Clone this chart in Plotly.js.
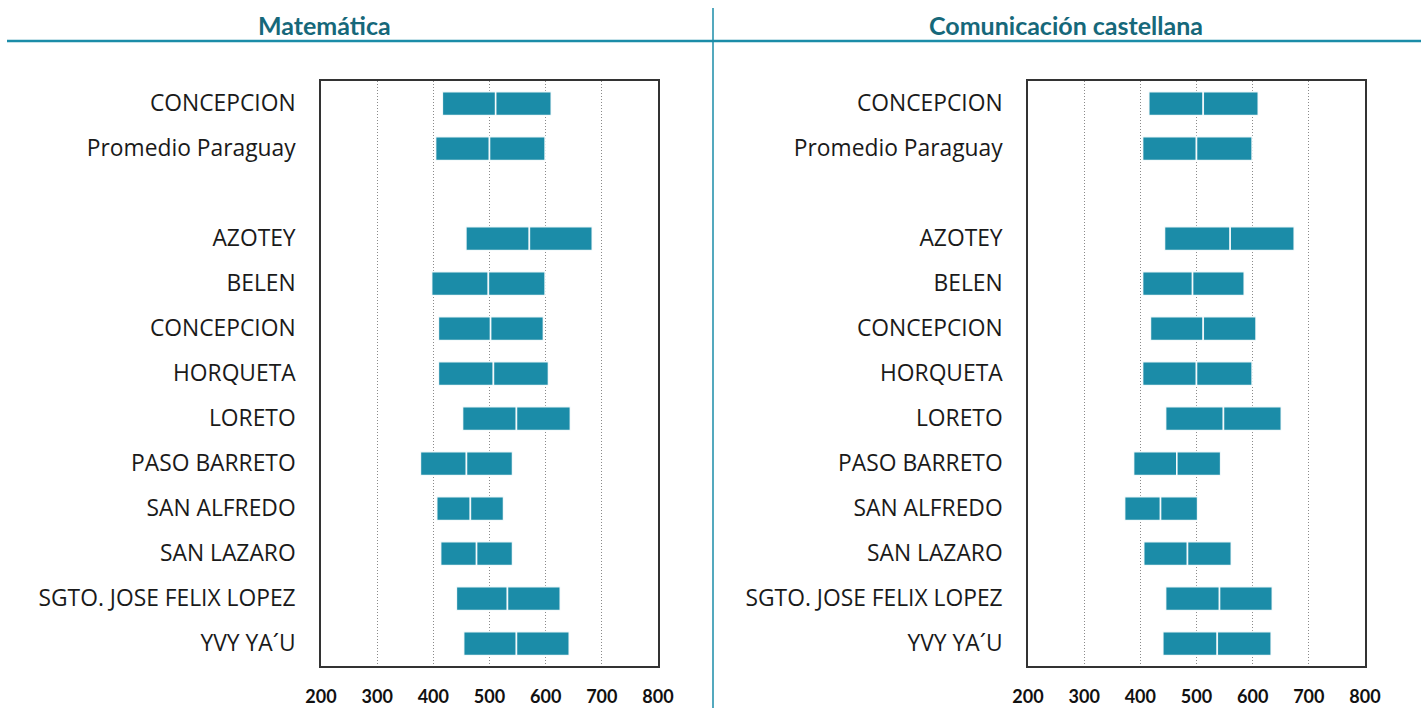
<!DOCTYPE html>
<html>
<head>
<meta charset="utf-8">
<script src="https://cdn.plot.ly/plotly-3.0.1.min.js"></script>
<style>html,body{margin:0;padding:0;background:#fff;}#chart{width:1428px;height:708px;}</style>
</head>
<body>
<div id="chart"></div>
<script>
const rows = ["CONCEPCION","Promedio Paraguay","","AZOTEY","BELEN","CONCEPCION","HORQUETA","LORETO","PASO BARRETO","SAN ALFREDO","SAN LAZARO","SGTO. JOSE FELIX LOPEZ","YVY YA´U"];

const matLow  = [416,404,null,458,397,409,409,452,377,406,413,441,454];
const matMid  = [511,500,null,571,498,502,507,548,459,466,477,532,548];
const matHigh = [610,599,null,683,599,596,605,644,541,525,541,626,642];

const comLow  = [415,404,null,443,404,418,404,445,388,372,406,445,440];
const comMid  = [512,500,null,560,493,512,500,548,465,436,484,541,537];
const comHigh = [610,599,null,674,585,606,599,651,543,502,562,635,633];

const xTicks = [200,300,400,500,600,700,800];
const panelTitles = ["Matemática","Comunicación castellana"];

const barColor = "rgb(27,140,168)";
const idx = rows.map((_, i) => i);
const labelIdx = idx.filter(i => rows[i] !== "");
const labelText = labelIdx.map(i => rows[i]);

function seg(base, top, xa, ya) {
  return {
    type: "bar", orientation: "h",
    y: idx,
    base: base,
    x: base.map((b, i) => (b === null || top[i] === null) ? null : top[i] - b),
    width: 0.53,
    marker: {color: barColor, line: {color: "rgba(255,255,255,0.9)", width: 1.6}},
    xaxis: xa, yaxis: ya,
    hoverinfo: "skip", showlegend: false
  };
}

const data = [
  seg(matLow, matMid, "x", "y"),
  seg(matMid, matHigh, "x", "y"),
  seg(comLow, comMid, "x2", "y2"),
  seg(comMid, comHigh, "x2", "y2")
];

const labelFam = "'Open Sans', Lato, sans-serif";
const boldFam = "Lato, 'Open Sans', sans-serif";

function xax(domain, anchor) {
  return {
    domain: domain, anchor: anchor, range: [200, 800],
    tickvals: xTicks, ticktext: xTicks.map(String),
    showgrid: true, gridcolor: "#8a8a8a", griddash: "1px,2px", gridwidth: 1,
    zeroline: false, showline: true, mirror: true, linecolor: "#333", linewidth: 1.8,
    ticks: "", ticklabelstandoff: 14,
    tickfont: {family: boldFam, size: 18, color: "#111", weight: "bold"}
  };
}
function yax(anchor) {
  return {
    domain: [0.0593, 0.8856], anchor: anchor, range: [12.5, -0.5],
    tickvals: labelIdx, ticktext: labelText,
    showgrid: false, zeroline: false, showline: true, mirror: true,
    linecolor: "#333", linewidth: 1.8, ticks: "", ticklabelstandoff: 19,
    tickfont: {family: labelFam, size: 22.8, color: "#1a1a1a"}
  };
}

const layout = {
  width: 1428, height: 708, autosize: false,
  margin: {l: 0, r: 0, t: 0, b: 0},
  paper_bgcolor: "#fff", plot_bgcolor: "#fff",
  barmode: "overlay", bargap: 0,
  xaxis: xax([321/1428, 658/1428], "y"),
  yaxis: yax("x"),
  xaxis2: xax([1028/1428, 1365/1428], "y2"),
  yaxis2: yax("x2"),
  shapes: [
    {type: "line", xref: "paper", yref: "paper", x0: 7/1428, x1: 1421/1428, y0: 1-41/708, y1: 1-41/708,
     line: {color: barColor, width: 2.5}},
    {type: "line", xref: "paper", yref: "paper", x0: 713/1428, x1: 713/1428, y0: 0, y1: 1-8/708,
     line: {color: barColor, width: 1.5}}
  ],
  annotations: [
    {text: panelTitles[0], xref: "paper", yref: "paper", x: 324/1428, y: 1-25/708,
     xanchor: "center", yanchor: "middle", showarrow: false,
     font: {family: boldFam, size: 25, color: "rgb(22,104,122)", weight: "bold"}},
    {text: panelTitles[1], xref: "paper", yref: "paper", x: 1066/1428, y: 1-25/708,
     xanchor: "center", yanchor: "middle", showarrow: false,
     font: {family: boldFam, size: 25, color: "rgb(22,104,122)", weight: "bold"}}
  ]
};

Plotly.newPlot("chart", data, layout, {staticPlot: true, displayModeBar: false});
</script>
</body>
</html>
